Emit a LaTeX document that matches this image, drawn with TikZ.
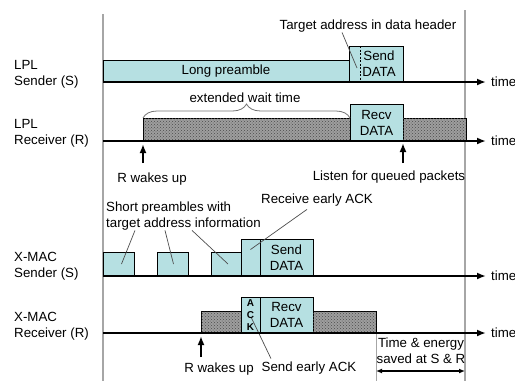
\documentclass[tikz,border=0pt]{standalone}
\usepackage{fontspec}
\setmainfont{Liberation Sans}
\usetikzlibrary{arrows.meta, patterns, decorations.pathreplacing, positioning}
\definecolor{pktblue}{RGB}{182,224,226}
\tikzset{
    every node/.style={font=\fontsize{13.3}{16}\selectfont, inner sep=0pt},
    box/.style 2 args={minimum width=#1, minimum height=#2},% size of a packet on the time line
    pkt/.style={draw, fill=pktblue, anchor=south west, outer sep=0pt, align=center},
    wait/.style={draw, fill=black!38, postaction={pattern=crosshatch dots, pattern color=black!70},
                 anchor=south west, outer sep=0pt},% idle listening
    axis/.style={line width=2pt, -{Latex[length=9pt, width=7pt]}},
    wake/.style={line width=2pt, -{Latex[length=9pt, width=7pt]}},
    ptr/.style={black!70, line width=0.7pt},
    frame/.style={black!35, line width=1.2pt},
    brc/.style={black!55, line width=0.8pt, decorate, decoration={brace, amplitude=14pt}},
    lbl/.style={align=left, anchor=west},
    tm/.style={anchor=west, inner xsep=5pt},
    both/.style={line width=1.4pt, {Latex[length=6pt, width=5pt]}-{Latex[length=6pt, width=5pt]}}
}
\begin{document}
\begin{tikzpicture}[x=1pt, y=-1pt]
  \useasboundingbox (0,0) rectangle (515,381);
  % frame lines
  \coordinate (f1) at (103,14);  \coordinate (f2) at (103,381);
  \coordinate (f3) at (465,10);  \coordinate (f4) at (465,381);
  \draw[frame] (f1) -- (f2);
  \draw[frame] (f3) -- (f4);

  % row labels
  \node[lbl] (lpls) at (14,74.5) {LPL\\Sender (S)};
  \node[lbl] (lplr) at (14,133) {LPL\\Receiver (R)};
  \node[lbl] (xms) at (14,266) {X-MAC\\Sender (S)};
  \node[lbl] (xmr) at (14,326) {X-MAC\\Receiver (R)};

  % LPL sender
  \node[pkt, box={246}{22}] (lp) at (103,82) {Long preamble};
  \node[pkt, box={54}{36}] (sd1) at (lp.south east) {\hspace*{6pt}Send\\\hspace*{6pt}DATA};
  \draw[dash pattern=on 2pt off 1.5pt, line width=0.8pt] ([xshift=11pt]sd1.north west) -- ([xshift=11pt]sd1.south west);
  \node (tgt) at (368,26) {Target address in data header};
  \draw[ptr] ([xshift=-26pt]tgt.south) -- ([xshift=8pt, yshift=14pt]sd1.south west);

  % LPL receiver
  \node[wait, box={207}{23}] (hw1) at (143,141) {};
  \node[pkt, box={53}{37}] (rd1) at (hw1.south east) {Recv\\DATA};
  \node[wait, box={63}{23}] (hw2) at (rd1.south east) {};
  \draw[brc] (hw1.north west) -- (hw1.north east);
  \node (ewt) at (245,98) {extended wait time};
  \node (rw1) at (152,179) {R wakes up};
  \coordinate (w1) at (143,163);
  \draw[wake] (w1) -- ([yshift=-3pt]hw1.south west);
  \node (lq) at (389,177) {Listen for queued packets};
  \coordinate (q1) at (403,163);
  \draw[wake] (q1) -- ([yshift=-2pt]rd1.south east);

  % X-MAC sender
  \node[pkt, box={31}{24}] (sp1) at (103,276) {};
  \node[pkt, box={31}{24}] (sp2) at (157,276) {};
  \node[pkt, box={30}{24}] (sp3) at (211,276) {};
  \node[pkt, box={19}{37}] (lk) at (sp3.south east) {};
  \node[pkt, box={53}{37}] (sd2) at (lk.south east) {Send\\DATA};
  \node[lbl] (spt) at (106,216) {Short preambles with\\target address information};
  \draw[ptr] ([xshift=29pt]spt.south west) -- ([xshift=3pt]sp1.center);
  \draw[ptr] ([xshift=59pt]spt.south west) -- ([xshift=1pt]sp2.center);
  \draw[ptr] ([xshift=86pt]spt.south west) -- ([xshift=2pt]sp3.center);
  \node (rea) at (317,200) {Receive early ACK};
  \draw[ptr] ([xshift=-10pt, yshift=-3pt]rea.south) -- ([yshift=8pt]lk.center);

  % X-MAC receiver
  \node[wait, box={40}{22}] (hx1) at (201,333) {};
  \node[pkt, box={19}{36}, font=\bfseries\fontsize{10}{12}\selectfont] (ack) at (hx1.south east) {A\\C\\K};
  \node[pkt, box={53}{36}] (rd2) at (ack.south east) {Recv\\DATA};
  \node[wait, box={63}{22}] (hx2) at (rd2.south east) {};
  \node (rw2) at (219,369) {R wakes up};
  \coordinate (w2) at (201,357);
  \draw[wake] (w2) -- ([yshift=-3pt]hx1.south west);
  \node (sea) at (309,368) {Send early ACK};
  \draw[ptr] ([xshift=-38pt, yshift=3pt]sea.north) -- ([xshift=1pt, yshift=-3pt]ack.center);

  % saved time
  \coordinate (v1) at (376,381);
  \draw[frame, line width=0.8pt] (hx2.south east) -- (v1);
  \node[align=center] (sav) at (421,351) {Time \& energy\\saved at S \& R};
  \coordinate (sv1) at (376,371); \coordinate (sv2) at (465,371);
  \draw[both] (sv1) -- (sv2);

  % time axes
  \coordinate (a1) at (103,82);  \node[tm] (t1) at (486,82) {time};
  \coordinate (a2) at (103,141); \node[tm] (t2) at (486,141) {time};
  \coordinate (a3) at (103,276); \node[tm] (t3) at (486,276) {time};
  \coordinate (a4) at (103,333); \node[tm] (t4) at (486,333) {time};
  \foreach \i in {1,...,4}
    \draw[axis] (a\i) -- (t\i);
\end{tikzpicture}
\end{document}
